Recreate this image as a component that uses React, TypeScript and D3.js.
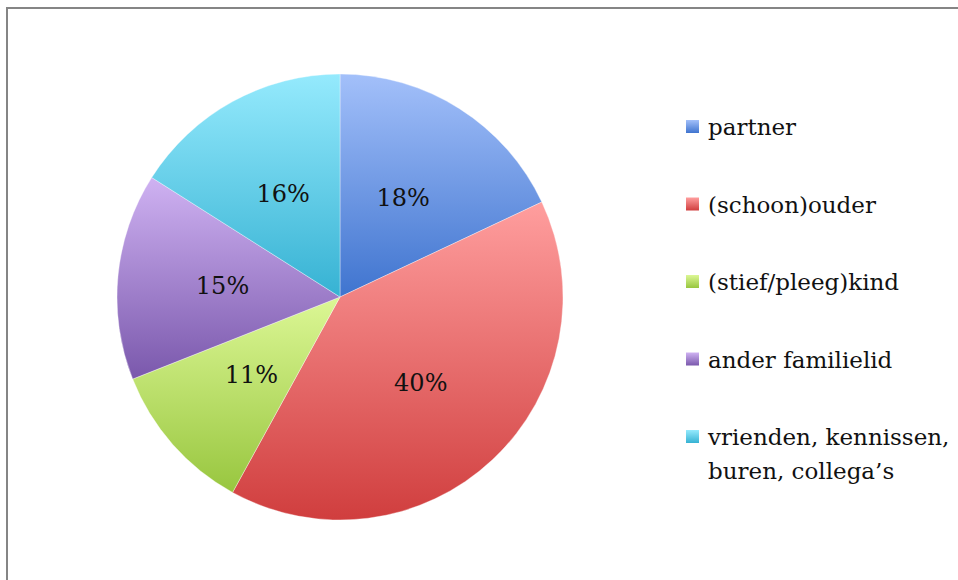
import React, { useEffect, useRef } from 'react';
import * as d3 from 'd3';

// chart data
const categories = ['partner', '(schoon)ouder', '(stief/pleeg)kind', 'ander familielid', 'vrienden, kennissen, buren, collega\u2019s'];
const legendLines = [['partner'], ['(schoon)ouder'], ['(stief/pleeg)kind'], ['ander familielid'], ['vrienden, kennissen,', 'buren, collega\u2019s']];
const values = [18, 40, 11, 15, 16];
const lightColors = ['#a3c0fa', '#ff9e9e', '#dcf795', '#cfb2f2', '#95eafd'];
const darkColors = ['#3f74cf', '#d03e3e', '#98c63f', '#7a58ac', '#36b2d3'];

const App = () => {
    const svgRef = useRef<SVGSVGElement>(null);

    useEffect(() => {
        const width = 958;
        const height = 580;
        const cx = 340;
        const cy = 297;
        const radius = 223;
        const font = "'DejaVu Serif', serif";

        const root = d3.select(svgRef.current);
        root.selectAll('*').remove();
        root.attr('width', width).attr('height', height);

        // gradients: light at top, darker at bottom of each slice
        const defs = root.append('defs');
        categories.forEach((c, i) => {
            const g = defs.append('linearGradient')
                .attr('id', `grad${i}`)
                .attr('x1', 0).attr('y1', 0).attr('x2', 0).attr('y2', 1);
            g.append('stop').attr('offset', '0%').attr('stop-color', lightColors[i]);
            g.append('stop').attr('offset', '100%').attr('stop-color', darkColors[i]);
        });

        root.append('rect')
            .attr('width', width).attr('height', height)
            .attr('fill', 'white');

        // chart frame (right/bottom edges lie outside the picture)
        root.append('path')
            .attr('d', `M7,${height + 5}V8H${width + 5}`)
            .attr('fill', 'none')
            .attr('stroke', '#858585')
            .attr('stroke-width', 2);

        const pie = d3.pie<number>().sort(null).value(d => d);
        const arc = d3.arc<d3.PieArcDatum<number>>().innerRadius(0).outerRadius(radius);
        const labelArc = d3.arc<d3.PieArcDatum<number>>().innerRadius(118).outerRadius(118);

        const g = root.append('g').attr('transform', `translate(${cx},${cy})`);
        const arcs = g.selectAll('.arc')
            .data(pie(values))
            .enter()
            .append('g')
            .attr('class', 'arc');

        arcs.append('path')
            .attr('d', arc)
            .attr('fill', (d, i) => `url(#grad${i})`)
            .attr('stroke', 'rgba(255,255,255,0.35)')
            .attr('stroke-width', 1);

        arcs.append('text')
            .attr('transform', d => `translate(${labelArc.centroid(d)})`)
            .attr('text-anchor', 'middle')
            .attr('dy', '0.35em')
            .attr('font-family', font)
            .attr('font-size', '24px')
            .attr('fill', '#111')
            .text(d => `${d.data}%`);

        // legend
        const legend = root.selectAll('.legend')
            .data(legendLines)
            .enter()
            .append('g')
            .attr('class', 'legend')
            .attr('transform', (d, i) => `translate(686,${120 + i * 77.5})`);

        legend.append('rect')
            .attr('width', 13)
            .attr('height', 13)
            .attr('fill', (d, i) => `url(#grad${i})`);

        legend.each(function (lines) {
            const t = d3.select(this).append('text')
                .attr('x', 22)
                .attr('y', 15)
                .attr('font-family', font)
                .attr('font-size', '23px')
                .attr('fill', '#111');
            lines.forEach((line, j) => {
                t.append('tspan').attr('x', 22).attr('dy', j === 0 ? 0 : 34).text(line);
            });
        });
    }, []);

    return <svg ref={svgRef} style={{ position: 'absolute', left: 0, top: 0 }}></svg>;
};

export default App;
